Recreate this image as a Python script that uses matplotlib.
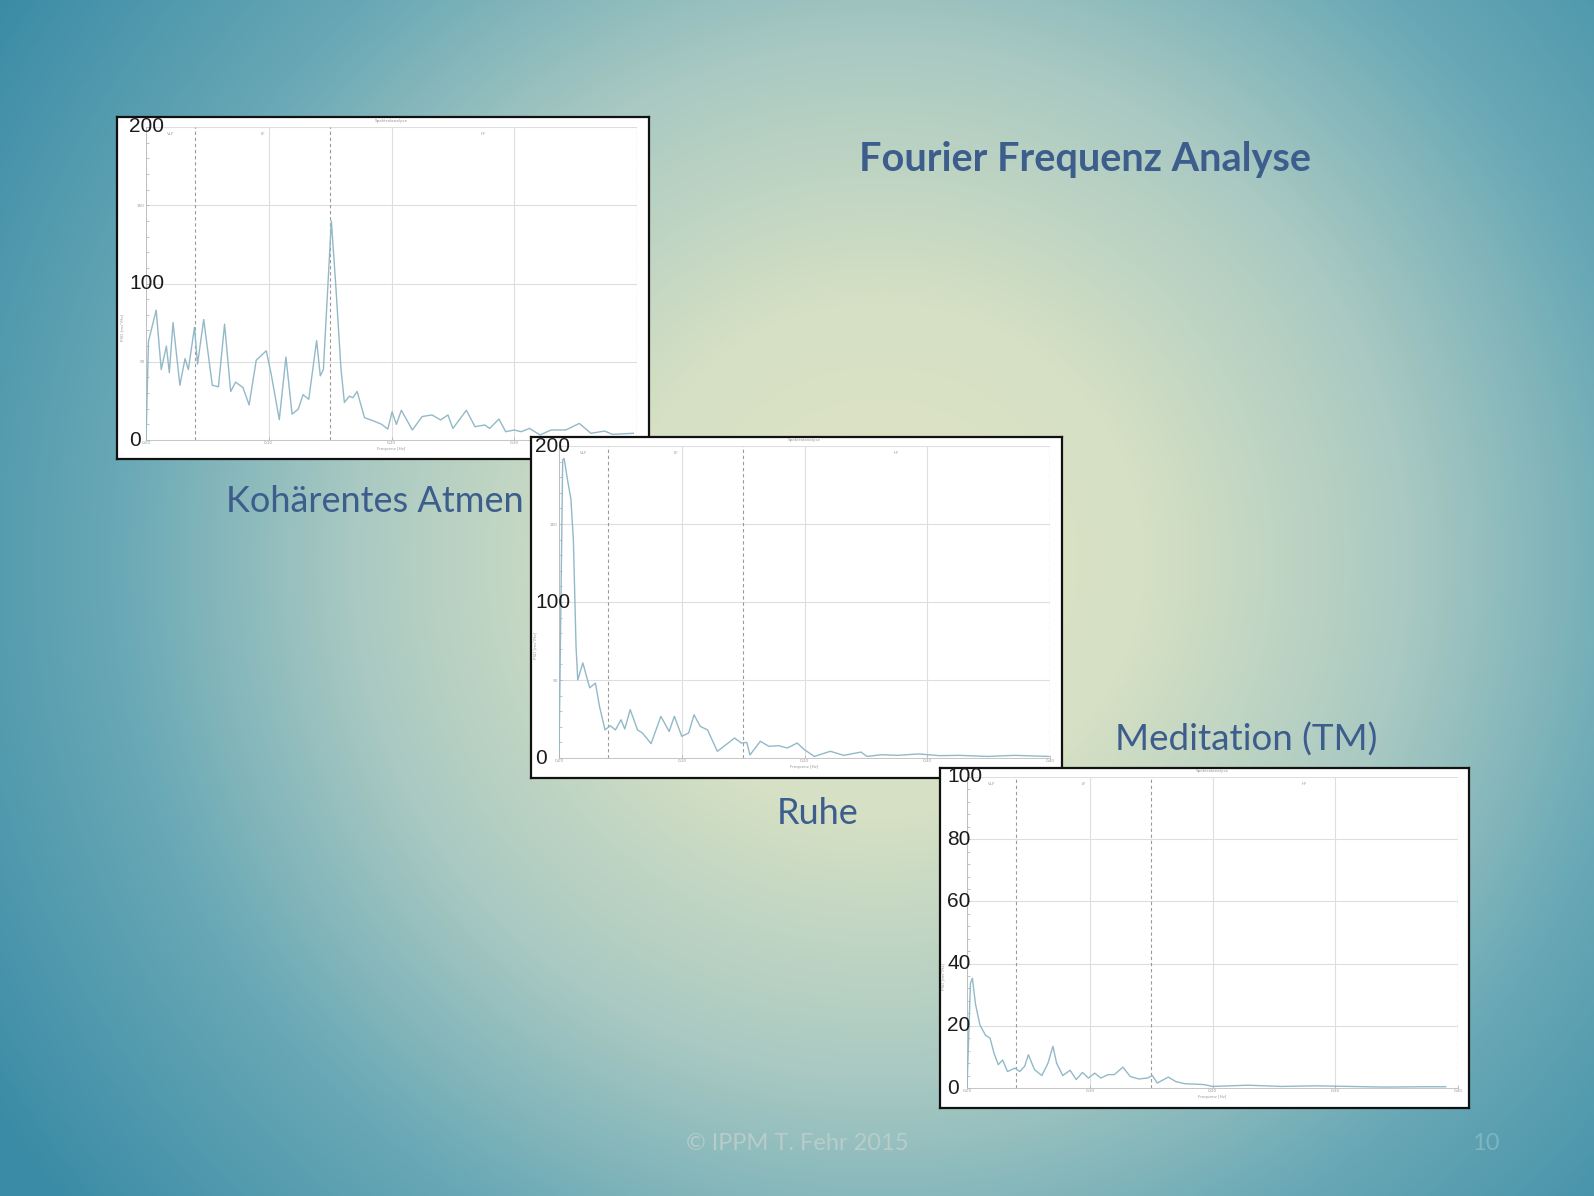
import numpy as np
import matplotlib.pyplot as plt
import matplotlib.transforms as mtransforms
from matplotlib.colors import LinearSegmentedColormap
from matplotlib.ticker import MultipleLocator

W, H = 1594, 1196

# spectra (frequency in Hz, power)
freq_kohaerent = [0.000, 0.002, 0.0083, 0.0124, 0.0166, 0.019, 0.022, 0.0276, 0.0318, 0.0345,
                  0.0395, 0.042, 0.047, 0.054, 0.059, 0.064, 0.069, 0.073, 0.079, 0.084,
                  0.0898, 0.098, 0.102, 0.1086, 0.114, 0.119, 0.124, 0.128, 0.1326, 0.139,
                  0.142, 0.1445, 0.151, 0.1545, 0.1588, 0.1616, 0.1657, 0.1685, 0.172, 0.178,
                  0.186, 0.192, 0.197, 0.2005, 0.204, 0.208, 0.217, 0.225, 0.233, 0.240,
                  0.246, 0.250, 0.261, 0.268, 0.276, 0.280, 0.2875, 0.293, 0.300, 0.3055,
                  0.3125, 0.321, 0.330, 0.342, 0.353, 0.3625, 0.3736, 0.380, 0.397]
power_kohaerent = [0, 63, 83, 45, 60, 43, 75, 35, 52, 45,
                   72, 48.5, 77, 35, 34, 74, 31, 37, 33.5, 22.4,
                   51, 57, 42, 13, 53, 16.5, 19.7, 29, 26, 63.5,
                   41, 45, 140, 100, 46, 24, 28, 27, 31, 14.3,
                   12, 10, 7, 18, 10, 19, 6.4, 15, 16, 12.8,
                   16, 7.4, 19, 8.5, 9.6, 7.4, 13.4, 5.3, 6.4, 5.3,
                   7.4, 3.2, 6.4, 6.4, 10.6, 4.3, 5.7, 3.6, 4.3]

freq_ruhe = [0.000, 0.003, 0.0042, 0.007, 0.0097, 0.0117, 0.0139, 0.0153, 0.0194, 0.025,
             0.0297, 0.033, 0.0375, 0.0417, 0.046, 0.0505, 0.0536, 0.058, 0.064, 0.068,
             0.075, 0.083, 0.0897, 0.094, 0.100, 0.1056, 0.110, 0.115, 0.121, 0.129,
             0.136, 0.143, 0.1486, 0.153, 0.1556, 0.164, 0.171, 0.179, 0.186, 0.194,
             0.200, 0.208, 0.221, 0.232, 0.246, 0.251, 0.2625, 0.276, 0.293, 0.310,
             0.326, 0.349, 0.371, 0.399]
power_ruhe = [0, 191, 192, 178, 166, 140, 71, 50, 61, 45,
              48, 33, 18, 20.7, 18, 24.5, 18.6, 31, 18, 16,
              9.2, 26.7, 17, 26.7, 13.9, 16, 27.7, 20.3, 18, 4.3,
              8.5, 12.8, 9.6, 10, 2, 10.7, 7.5, 7.9, 6.4, 9.6,
              5.3, 1, 4.3, 1.7, 3.8, 1, 2.1, 1.7, 2.6, 1.5,
              1.7, 1, 1.7, 1]

freq_meditation = [0.000, 0.0028, 0.0044, 0.0069, 0.0105, 0.015, 0.0188, 0.022, 0.0255, 0.029,
                   0.033, 0.039, 0.043, 0.047, 0.050, 0.055, 0.061, 0.066, 0.070, 0.073,
                   0.078, 0.084, 0.089, 0.094, 0.099, 0.104, 0.109, 0.115, 0.120, 0.127,
                   0.133, 0.140, 0.147, 0.151, 0.155, 0.164, 0.170, 0.177, 0.193, 0.200,
                   0.229, 0.256, 0.284, 0.312, 0.340, 0.372, 0.390]
power_meditation = [0, 33.7, 35.3, 27, 20.3, 17, 16, 11.2, 7.5, 9,
                    5.3, 6.4, 5.3, 7, 10.7, 5.9, 4, 8, 13.4, 8,
                    4, 5.7, 2.7, 5, 3.2, 4.8, 3.2, 4.3, 4.3, 6.7,
                    3.7, 2.9, 3.2, 4, 1.6, 3.5, 2.1, 1.4, 1.1, 0.5,
                    0.9, 0.5, 0.7, 0.5, 0.3, 0.4, 0.4]

band_edges = [0.04, 0.15, 0.4]
band_names = ['VLF', 'LF', 'HF']
band_name_pos = [0.02, 0.095, 0.275]
x_ticks = [0.0, 0.1, 0.2, 0.3, 0.4]
x_tick_labels = ['0,00', '0,10', '0,20', '0,30', '0,40']

big_ticks_200 = [0, 100, 200]
big_ticks_100 = [0, 20, 40, 60, 80, 100]

title_text = 'Fourier Frequenz Analyse'
caption_kohaerent = 'Kohärentes Atmen'
caption_ruhe = 'Ruhe'
caption_meditation = 'Meditation (TM)'
footer_text = '© IPPM T. Fehr 2015'
page_number = '10'

TEXT_BLUE = '#3d5d8c'
CURVE = '#92b9c7'


def px_rect(x0, y0, x1, y1):
    return [x0 / W, 1 - y1 / H, (x1 - x0) / W, (y1 - y0) / H]


def draw_panel(fig, box, plot, freq, power, ymax, ystep, big_ticks, label_dx, z):
    bx = fig.add_axes(px_rect(*box), zorder=z)
    bx.set_facecolor('white')
    bx.set_xticks([])
    bx.set_yticks([])
    for s in bx.spines.values():
        s.set_linewidth(1.6)
        s.set_color('#111111')

    ax = fig.add_axes(px_rect(*plot), zorder=z + 0.5)
    ax.patch.set_alpha(0)
    ax.plot(freq, power, color=CURVE, lw=1.0, zorder=3)
    ax.set_xlim(0, 0.4)
    ax.set_ylim(0, ymax)

    ax.set_xticks(x_ticks)
    ax.set_xticklabels(x_tick_labels, fontsize=3, color='#999999')
    yt = np.arange(0, ymax + 1, ystep)
    ax.set_yticks(yt)
    # original small labels only survive where no big number was pasted over them
    ax.set_yticklabels(['' if v in big_ticks else str(v) for v in yt],
                       fontsize=3, color='#999999')
    ax.yaxis.set_minor_locator(MultipleLocator(ystep / 5))
    ax.tick_params(which='both', direction='in', color='#aaaaaa', length=2, width=0.5, pad=1)
    ax.grid(True, color='#dedede', lw=0.8)
    for side in ['top', 'right']:
        ax.spines[side].set_visible(False)
    for side in ['left', 'bottom']:
        ax.spines[side].set_color('#bbbbbb')
        ax.spines[side].set_linewidth(0.6)

    for e in band_edges:
        ax.axvline(e, color='#9a9a9a', lw=0.8, ls=(0, (3, 2.5)), zorder=2)
    for name, pos in zip(band_names, band_name_pos):
        ax.text(pos, ymax * 0.985, name, fontsize=3, color='#999999', ha='center', va='top')
    ax.text(0.2, ymax * 1.012, 'Spektralanalyse', fontsize=3, color='#999999',
            ha='center', va='bottom', clip_on=False)
    ax.set_xlabel('Frequenz [Hz]', fontsize=3, color='#999999', labelpad=1)
    ax.set_ylabel('PSD [ms²/Hz]', fontsize=3, color='#999999')
    ax.yaxis.set_label_coords(-0.045, 0.36)

    # large numbers pasted over the original axis
    width_px = plot[2] - plot[0]
    trans = mtransforms.blended_transform_factory(ax.transAxes, ax.transData)
    for v in big_ticks:
        ax.text(-label_dx / width_px, v, str(v), transform=trans, ha='left', va='center',
                fontsize=15, family='Liberation Sans', color='#1c1c1c',
                clip_on=False, zorder=10)
    return ax


fig = plt.figure(figsize=(W / 100, H / 100), dpi=100)

# radial slide background
bg = fig.add_axes([0, 0, 1, 1], zorder=0)
yy, xx = np.mgrid[0:H, 0:W]
d = np.sqrt(((xx - 880) / 880.0) ** 2 + ((yy - 560) / 860.0) ** 2)
cmap = LinearSegmentedColormap.from_list(
    'slide', [(0.0, '#e2e4c4'), (0.25, '#d5e0c4'), (0.5, '#a9c9c2'),
              (0.72, '#6aa9b6'), (1.0, '#3a8ba6')])
bg.imshow(np.clip(d / 1.2, 0, 1), cmap=cmap, vmin=0, vmax=1,
          extent=[0, W, H, 0], aspect='auto', interpolation='bilinear')
bg.set_xlim(0, W)
bg.set_ylim(H, 0)
bg.axis('off')

draw_panel(fig, (117, 117, 649, 459), (146, 127, 637, 440),
           freq_kohaerent, power_kohaerent, 200, 50, big_ticks_200, 17, 2)
draw_panel(fig, (531, 437, 1062, 778), (559, 446, 1050, 758),
           freq_ruhe, power_ruhe, 200, 50, big_ticks_200, 24, 4)
draw_panel(fig, (940, 768, 1469, 1108), (967, 777, 1458, 1088),
           freq_meditation, power_meditation, 100, 20, big_ticks_100, 20, 6)

bg.text(1085, 160, title_text, fontsize=28.5, fontweight='bold', family='Lato',
        color=TEXT_BLUE, ha='center', va='center')
bg.text(226, 501, caption_kohaerent, fontsize=26, family='Lato',
        color=TEXT_BLUE, ha='left', va='center')
bg.text(818, 813, caption_ruhe, fontsize=26, family='Lato',
        color=TEXT_BLUE, ha='center', va='center')
bg.text(1115, 740, caption_meditation, fontsize=26.5, family='Lato',
        color=TEXT_BLUE, ha='left', va='center')
bg.text(797, 1143, footer_text, fontsize=17, family='Lato',
        color='#b7cccb', ha='center', va='center')
bg.text(1486, 1143, page_number, fontsize=17, family='Lato',
        color='#7fb4c0', ha='center', va='center')

fig.savefig('out.png', dpi=100)
